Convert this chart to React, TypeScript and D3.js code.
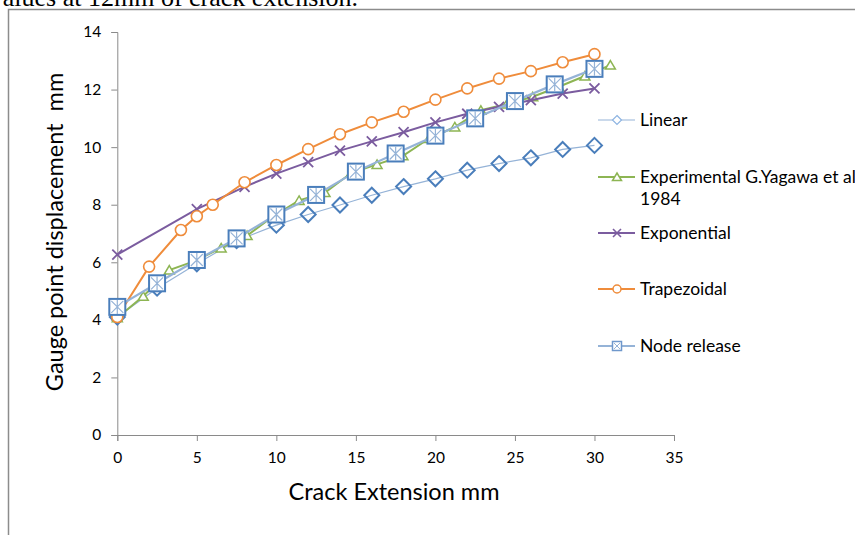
import * as d3 from "d3";
import React, { useRef, useEffect } from "react";

// x / y values
const linearX = [0, 2.5, 5, 7.5, 10, 12, 14, 16, 18, 20, 22, 24, 26, 28, 30];
const linearY = [4.1, 5.1, 5.95, 6.75, 7.29, 7.66, 7.99, 8.33, 8.63, 8.9, 9.2, 9.43, 9.63, 9.92, 10.06];

const expX = [0, 1.63, 3.27, 4.9, 6.53, 8.16, 9.8, 11.43, 13.06, 14.7, 16.33, 17.96, 19.6, 21.22, 22.86, 24.5, 26.12, 27.76, 29.4, 31.0];
const expY = [4.07, 4.82, 5.73, 6.05, 6.5, 6.93, 7.6, 8.15, 8.42, 9.1, 9.4, 9.7, 10.3, 10.7, 11.28, 11.5, 11.75, 12.1, 12.47, 12.85];

const exponX = [0, 5, 8, 10, 12, 14, 16, 18, 20, 22, 24, 26, 28, 30];
const exponY = [6.27, 7.85, 8.62, 9.08, 9.48, 9.88, 10.2, 10.52, 10.86, 11.16, 11.4, 11.63, 11.86, 12.04];

const trapX = [0, 2, 4, 5, 6, 8, 10, 12, 14, 16, 18, 20, 22, 24, 26, 28, 30];
const trapY = [4.1, 5.85, 7.12, 7.6, 8.0, 8.78, 9.38, 9.93, 10.45, 10.86, 11.23, 11.65, 12.04, 12.38, 12.64, 12.95, 13.23];

const nodeX = [0, 2.5, 5, 7.5, 10, 12.5, 15, 17.5, 20, 22.5, 25, 27.5, 30];
const nodeY = [4.45, 5.27, 6.08, 6.83, 7.66, 8.34, 9.15, 9.78, 10.4, 11.0, 11.6, 12.18, 12.72];

const xTicks = [0, 5, 10, 15, 20, 25, 30, 35];
const yTicks = [0, 2, 4, 6, 8, 10, 12, 14];

const legendNames = ["Linear", "Experimental G.Yagawa et al", "Exponential", "Trapezoidal", "Node release"];

const FONT = "Lato, 'Open Sans', sans-serif";

function Chart() {
  const ref = useRef<SVGSVGElement>(null);

  useEffect(() => {
    const svg = d3.select(ref.current);
    svg.selectAll("*").remove();

    const x = d3.scaleLinear().domain([0, 35]).range([117.3, 674]);
    const y = d3.scaleLinear().domain([0, 14]).range([435, 32]);

    // caption of the page, cut off by the top edge like in the scan
    svg.append("text")
      .attr("x", 358).attr("y", 6)
      .attr("text-anchor", "end")
      .style("font-family", "'Liberation Serif', serif")
      .style("font-size", "26px")
      .text("values at 12mm of crack extension.");

    // chart frame
    svg.append("rect")
      .attr("x", 8.5).attr("y", 9.5)
      .attr("width", 900).attr("height", 600)
      .attr("fill", "white")
      .attr("stroke", "#8c8c8c").attr("stroke-width", 1.5);

    const axisColor = "#8a8a8a";

    // x axis
    const gx = svg.append("g").attr("transform", "translate(0," + y(0) + ")")
      .call(d3.axisBottom(x).tickValues(xTicks).tickSize(6).tickPadding(11).tickFormat(d3.format("d")));
    gx.select(".domain").attr("stroke", axisColor);
    gx.selectAll(".tick line").attr("stroke", axisColor);
    gx.selectAll("text").style("font-family", FONT).style("font-size", "15.5px").attr("fill", "#000");

    // y axis
    const gy = svg.append("g").attr("transform", "translate(" + x(0) + ",0)")
      .call(d3.axisLeft(y).tickValues(yTicks).tickSize(6).tickPadding(10).tickFormat(d3.format("d")));
    gy.select(".domain").attr("stroke", axisColor);
    gy.selectAll(".tick line").attr("stroke", axisColor);
    gy.selectAll("text").style("font-family", FONT).style("font-size", "15.5px").attr("fill", "#000");

    svg.append("text")
      .attr("x", 394).attr("y", 500)
      .attr("text-anchor", "middle")
      .style("font-family", FONT).style("font-size", "23.5px")
      .text("Crack Extension mm");

    svg.append("text")
      .attr("transform", "translate(63,232) rotate(-90)")
      .attr("text-anchor", "middle")
      .attr("xml:space", "preserve")
      .style("font-family", FONT).style("font-size", "23.5px")
      .style("white-space", "pre")
      .text("Gauge point displacement  mm");

    const line = d3.line<[number, number]>().x(d => x(d[0])).y(d => y(d[1]));
    const zip = (xs: number[], ys: number[]) => xs.map((v, i) => [v, ys[i]] as [number, number]);

    const blue = "#4a7ebb";
    const lightBlue = "#95b3d7";
    const green = "#8db553";
    const purple = "#7b5c9f";
    const orange = "#ef8c3b";

    // Linear
    const lin = zip(linearX, linearY);
    svg.append("path").attr("d", line(lin)).attr("fill", "none").attr("stroke", lightBlue).attr("stroke-width", 1.2);
    svg.selectAll(".dia").data(lin).enter().append("path")
      .attr("d", "M0,-7.5L7.5,0L0,7.5L-7.5,0Z")
      .attr("transform", d => "translate(" + x(d[0]) + "," + y(d[1]) + ")")
      .attr("fill", "none").attr("stroke", blue).attr("stroke-width", 2);

    // Experimental
    const ex = zip(expX, expY);
    svg.append("path").attr("d", line(ex)).attr("fill", "none").attr("stroke", green).attr("stroke-width", 2);
    svg.selectAll(".tri").data(ex).enter().append("path")
      .attr("d", "M0,-4.5L5,4L-5,4Z")
      .attr("transform", d => "translate(" + x(d[0]) + "," + y(d[1]) + ")")
      .attr("fill", "white").attr("stroke", green).attr("stroke-width", 1.5);

    // Exponential
    const expo = zip(exponX, exponY);
    svg.append("path").attr("d", line(expo)).attr("fill", "none").attr("stroke", purple).attr("stroke-width", 2);
    svg.selectAll(".crs").data(expo).enter().append("path")
      .attr("d", "M-5,-5L5,5M5,-5L-5,5")
      .attr("transform", d => "translate(" + x(d[0]) + "," + y(d[1]) + ")")
      .attr("fill", "none").attr("stroke", purple).attr("stroke-width", 1.8);

    // Trapezoidal
    const tr = zip(trapX, trapY);
    svg.append("path").attr("d", line(tr)).attr("fill", "none").attr("stroke", orange).attr("stroke-width", 2);
    svg.selectAll(".circ").data(tr).enter().append("circle")
      .attr("cx", d => x(d[0])).attr("cy", d => y(d[1])).attr("r", 5.5)
      .attr("fill", "white").attr("stroke", orange).attr("stroke-width", 1.6);

    // Node release
    const nd = zip(nodeX, nodeY);
    svg.append("path").attr("d", line(nd)).attr("fill", "none").attr("stroke", lightBlue).attr("stroke-width", 2.2);
    const sq = svg.selectAll(".sq").data(nd).enter().append("g")
      .attr("transform", d => "translate(" + x(d[0]) + "," + y(d[1]) + ")");
    sq.append("rect").attr("x", -8).attr("y", -8).attr("width", 16).attr("height", 16)
      .attr("fill", "white").attr("stroke", blue).attr("stroke-width", 2);
    sq.append("path").attr("d", "M-6,-6L6,6M6,-6L-6,6M0,-7L0,7")
      .attr("stroke", lightBlue).attr("stroke-width", 1.2);

    // legend
    const legY = [120, 177, 233, 289, 346];
    const leg = svg.append("g");
    const lx0 = 598, lx1 = 635, mx = 617;
    const legColors = [lightBlue, green, purple, orange, lightBlue];
    legY.forEach((ly, i) => {
      leg.append("line").attr("x1", lx0).attr("x2", lx1).attr("y1", ly).attr("y2", ly)
        .attr("stroke", legColors[i]).attr("stroke-width", i === 0 ? 1.2 : 2);
      const g = leg.append("g").attr("transform", "translate(" + mx + "," + ly + ")");
      if (i === 0) {
        g.append("path").attr("d", "M0,-4.5L4.5,0L0,4.5L-4.5,0Z").attr("fill", "white").attr("stroke", "#8db4e2").attr("stroke-width", 1.2);
      } else if (i === 1) {
        g.append("path").attr("d", "M0,-4L4.5,3.5L-4.5,3.5Z").attr("fill", "white").attr("stroke", green).attr("stroke-width", 1.5);
      } else if (i === 2) {
        g.append("path").attr("d", "M-4,-4L4,4M4,-4L-4,4").attr("stroke", purple).attr("stroke-width", 1.6);
      } else if (i === 3) {
        g.append("circle").attr("r", 4).attr("fill", "white").attr("stroke", orange).attr("stroke-width", 1.5);
      } else {
        g.append("rect").attr("x", -4.5).attr("y", -4.5).attr("width", 9).attr("height", 9)
          .attr("fill", "white").attr("stroke", "#6f98cc").attr("stroke-width", 1.5);
        g.append("path").attr("d", "M-3,-3L3,3M3,-3L-3,3").attr("stroke", lightBlue).attr("stroke-width", 1);
      }
      leg.append("text").attr("x", 640).attr("y", ly).attr("dy", "0.35em")
        .style("font-family", FONT).style("font-size", "17.5px")
        .text(legendNames[i]);
    });
    leg.append("text").attr("x", 640).attr("y", 199).attr("dy", "0.35em")
      .style("font-family", FONT).style("font-size", "17.5px")
      .text("1984");
  }, []);

  return <svg ref={ref} width={855} height={535} style={{ position: "absolute", left: 0, top: 0, background: "white" }} />;
}

export default function App() {
  return <Chart />;
}
